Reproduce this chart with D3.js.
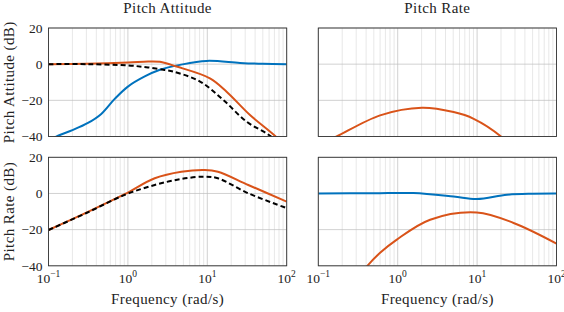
<!DOCTYPE html>
<html>
<head>
<meta charset="utf-8">
<script src="https://cdn.jsdelivr.net/npm/d3@7"></script>
<style>
  body { margin: 0; background: #fff; }
  svg text { font-family: "Liberation Serif", "DejaVu Serif", serif; fill: #222; }
</style>
</head>
<body>
<svg id="chart" width="564" height="312"></svg>
<script>
// frequencies (rad/s) and magnitudes (dB)
const attBlueF = [0.1, 0.132, 0.2, 0.314, 0.462, 0.682, 1.0, 1.63, 2.53, 4.53, 9.8, 25.8, 50, 100];
const attBlueDb = [-42.5, -39.6, -36.5, -32.5, -27.5, -19.2, -12.4, -6.8, -3.1, -0.4, 1.8, 0.7, 0.2, 0];
const attOrangeF = [0.1, 0.3, 1.0, 1.8, 2.53, 4.1, 10.8, 17.5, 34.5, 71, 100];
const attOrangeDb = [0, 0.2, 0.9, 1.5, 1.3, -1.3, -7.8, -15.2, -28.1, -39.6, -46];
const attBlackF = [0.1, 0.3, 1.0, 1.79, 2.9, 3.73, 8.1, 15.9, 31.3, 61.6, 100];
const attBlackDb = [0, 0, -0.7, -1.8, -3.2, -4.1, -9.6, -19.8, -31.8, -39.6, -48];
const rateAttOrangeF = [0.12, 0.17, 0.6, 2.02, 5.06, 9.06, 20, 30];
const rateAttOrangeDb = [-43, -40, -28.3, -24.1, -26.5, -30.2, -40, -48];

const rateOrangeF = [0.1, 0.3, 0.91, 2.18, 4.71, 9.3, 13.6, 32.8, 100];
const rateOrangeDb = [-20.2, -10.6, -0.4, 8.4, 12, 13, 12, 4.7, -4.5];
const rateBlackF = [0.1, 0.3, 0.91, 2.18, 4.71, 9.3, 13.6, 32.8, 100];
const rateBlackDb = [-20.2, -10.8, -0.8, 4.7, 8, 9.3, 8.4, 0.1, -8.1];
const rateBlueF = [0.1, 0.5, 1.58, 5.06, 9.9, 23.8, 50, 100];
const rateBlueDb = [0, 0.1, 0.2, -1.7, -3.1, -0.7, -0.1, 0];
const rateRateOrangeF = [0.3, 0.415, 0.6, 0.975, 2.56, 9.9, 28.8, 100];
const rateRateOrangeDb = [-48, -40, -32.8, -25.5, -14.5, -10.5, -16.3, -27.7];

const yTicks = [20, 0, -20, -40];
const xTicks = [0.1, 1, 10, 100];
const xTickExp = ["\u22121", "0", "1", "2"];
const colTitles = ["Pitch Attitude", "Pitch Rate"];
const rowLabels = ["Pitch Attitude (dB)", "Pitch Rate (dB)"];

const BLUE = "#0072BD", ORANGE = "#D95319";

const panels = [
  { row: 0, col: 0, series: [
    { f: attBlueF, db: attBlueDb, color: BLUE },
    { f: attOrangeF, db: attOrangeDb, color: ORANGE },
    { f: attBlackF, db: attBlackDb, color: "#000", dash: "5,3" }] },
  { row: 0, col: 1, series: [
    { f: rateAttOrangeF, db: rateAttOrangeDb, color: ORANGE }] },
  { row: 1, col: 0, series: [
    { f: rateOrangeF, db: rateOrangeDb, color: ORANGE },
    { f: rateBlackF, db: rateBlackDb, color: "#000", dash: "5,3" }] },
  { row: 1, col: 1, series: [
    { f: rateBlueF, db: rateBlueDb, color: BLUE },
    { f: rateRateOrangeF, db: rateRateOrangeDb, color: ORANGE }] }
];

const colX = [48.5, 318.3];
const rowY = [28, 157.3];
const pw = 238.2, ph = 108.5;

const svg = d3.select("#chart");

// minor grid positions 2..9 per decade
const minor = [];
[0.1, 1, 10].forEach(d => { for (let k = 2; k <= 9; k++) minor.push(d * k); });

panels.forEach((p, i) => {
  const x0 = colX[p.col], y0 = rowY[p.row];
  const x = d3.scaleLog().domain([0.1, 100]).range([x0, x0 + pw]);
  const y = d3.scaleLinear().domain([-40, 20]).range([y0 + ph, y0]);
  const g = svg.append("g");

  g.append("clipPath").attr("id", "clip" + i)
    .append("rect").attr("x", x0).attr("y", y0).attr("width", pw).attr("height", ph);

  g.selectAll(".minor").data(minor).join("line")
    .attr("x1", d => x(d)).attr("x2", d => x(d))
    .attr("y1", y0).attr("y2", y0 + ph)
    .attr("stroke", "#d6d6d6").attr("stroke-width", 0.6);
  g.selectAll(".major").data(xTicks).join("line")
    .attr("x1", d => x(d)).attr("x2", d => x(d))
    .attr("y1", y0).attr("y2", y0 + ph)
    .attr("stroke", "#bdbdbd").attr("stroke-width", 0.7);
  g.selectAll(".hgrid").data(yTicks).join("line")
    .attr("x1", x0).attr("x2", x0 + pw)
    .attr("y1", d => y(d)).attr("y2", d => y(d))
    .attr("stroke", "#bdbdbd").attr("stroke-width", 0.7);

  const line = d3.line().x(d => x(d[0])).y(d => y(d[1])).curve(d3.curveCatmullRom.alpha(0.5));
  const curves = g.append("g").attr("clip-path", `url(#clip${i})`);
  p.series.forEach(s => {
    curves.append("path")
      .datum(d3.zip(s.f, s.db))
      .attr("d", line)
      .attr("fill", "none")
      .attr("stroke", s.color)
      .attr("stroke-width", 2)
      .attr("stroke-dasharray", s.dash || null);
  });

  g.append("rect").attr("x", x0).attr("y", y0).attr("width", pw).attr("height", ph)
    .attr("fill", "none").attr("stroke", "#333").attr("stroke-width", 0.9);

  if (p.col === 0) {
    g.selectAll(".ylab").data(yTicks).join("text")
      .attr("x", x0 - 6).attr("y", d => y(d)).attr("dy", "0.35em")
      .attr("text-anchor", "end").attr("font-size", 13.5)
      .text(d => d < 0 ? "\u2212" + Math.abs(d) : d);
    g.append("text")
      .attr("transform", `translate(14,${y0 + ph / 2}) rotate(-90)`)
      .attr("text-anchor", "middle").attr("font-size", 15).attr("letter-spacing", 0.4)
      .text(rowLabels[p.row]);
  }
  if (p.row === 0) {
    g.append("text").attr("x", x0 + pw / 2).attr("y", 13)
      .attr("text-anchor", "middle").attr("font-size", 15).attr("letter-spacing", 0.4)
      .text(colTitles[p.col]);
  }
  if (p.row === 1) {
    const lab = g.selectAll(".xlab").data(xTicks).join("text")
      .attr("x", d => x(d)).attr("y", y0 + ph + 17)
      .attr("text-anchor", "middle").attr("font-size", 13.5);
    lab.append("tspan").text("10");
    lab.append("tspan").attr("dy", -5.5).attr("font-size", 9.5).text((d, j) => xTickExp[j]);
    g.append("text").attr("x", x0 + pw / 2).attr("y", 304)
      .attr("text-anchor", "middle").attr("font-size", 15).attr("letter-spacing", 0.4)
      .text("Frequency (rad/s)");
  }
});
</script>
</body>
</html>
